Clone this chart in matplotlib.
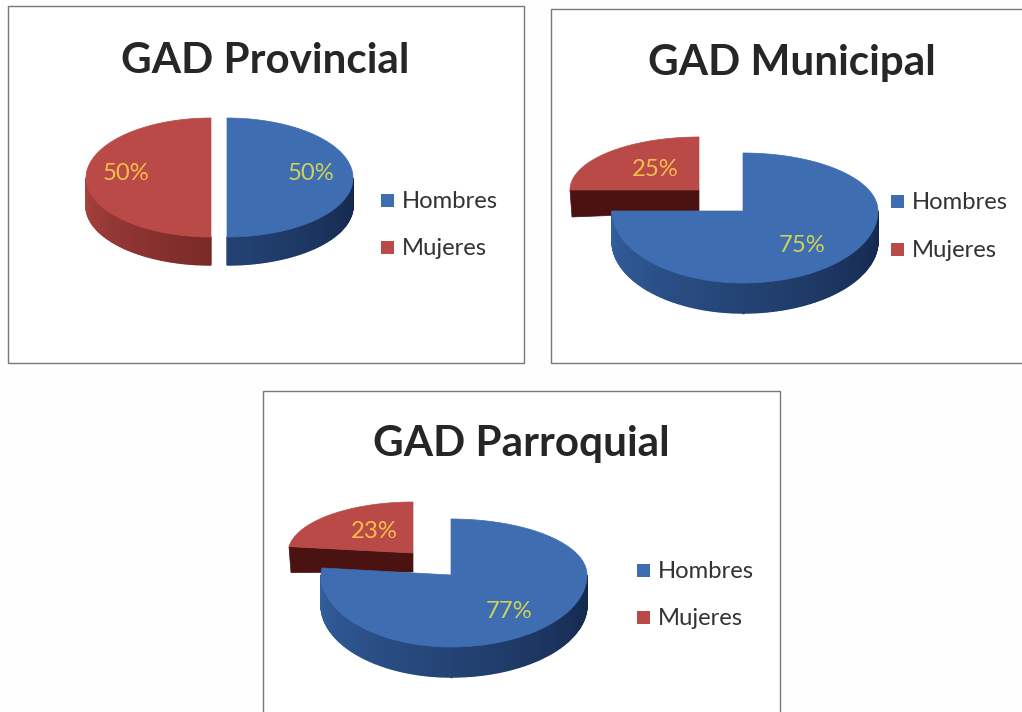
import numpy as np
import matplotlib
matplotlib.use('Agg')
import matplotlib.pyplot as plt
from matplotlib.colors import to_rgb
from matplotlib.patches import Polygon, Rectangle

# charts: title, share of men, share of women
titles = ['GAD Provincial', 'GAD Municipal', 'GAD Parroquial']
hombres = [50, 75, 77]
mujeres = [50, 25, 23]
legend_names = ['Hombres', 'Mujeres']

BLUE = '#3f6db1'
RED = '#b94a47'
BLUE_SIDE = ('#14264a', '#33609f')
RED_SIDE = ('#4a1210', '#a8423f')
CUT = '#4a1311'
FONT = 'Lato'

fig = plt.figure(figsize=(10.22, 7.12), dpi=100, facecolor='#fefefe')
ax = fig.add_axes([0, 0, 1, 1])
ax.set_xlim(0, 1022)
ax.set_ylim(712, 0)
ax.axis('off')


def rim(c, t):
    # c is apex x, apex y, radius right, radius left, back radius y, front radius y
    # t is clockwise from 12 o'clock
    t = np.radians(t)
    co = np.cos(t)
    si = np.sin(t)
    ry = np.where(co > 0, c[4], c[5])
    rx = np.where(si > 0, c[2], c[3])
    return c[0] + si * rx, c[1] - co * ry


def draw_slice(c, t0, t1, top, side, depth, apex_depth):
    # rounded outer wall, only the part facing the viewer
    a, b = max(t0, 90), min(t1, 270)
    if b > a:
        ts = np.linspace(a, b, int(b - a) + 2)
        dark, light = np.array(to_rgb(side[0])), np.array(to_rgb(side[1]))
        for p, q in zip(ts[:-1], ts[1:]):
            xs, ys = rim(c, np.array([p, q]))
            col = dark + (light - dark) * (p - 90) / 180
            ax.add_patch(Polygon([(xs[0], ys[0]), (xs[1], ys[1]), (xs[1], ys[1] + depth), (xs[0], ys[0] + depth)],
                                 fc=col, ec=col, lw=1.0))
    # flat cut face when the slice starts on the left side
    if t0 > 180:
        x0, y0 = rim(c, t0)
        ax.add_patch(Polygon([(c[0], c[1]), (x0, y0), (x0 + 2, y0 + depth), (c[0], c[1] + apex_depth)],
                             fc=CUT, ec=CUT, lw=0.5))
    ts = np.linspace(t0, t1, 200)
    xs, ys = rim(c, ts)
    pts = [(c[0], c[1])] + list(zip(xs, ys))
    ax.add_patch(Polygon(pts, fc=top, ec=top, lw=0.5))


def draw_panel(i, frame, title_xy, c_h, c_m, depths, apex_depth, lab_h, lab_m, leg_x, leg_y):
    ax.add_patch(Rectangle((frame[0], frame[1]), frame[2], frame[3], fc='white', ec='#787878', lw=1.0))
    ax.text(title_xy[0], title_xy[1], titles[i], fontsize=30.4, fontweight='bold', family=FONT,
            color='#262626', ha='center', va='center')
    split = hombres[i] * 3.6
    draw_slice(c_m, split, 360, RED, RED_SIDE, depths[1], apex_depth)
    draw_slice(c_h, 0, split, BLUE, BLUE_SIDE, depths[0], apex_depth)
    ax.text(lab_h[0], lab_h[1], '%d%%' % hombres[i], fontsize=17.2, family=FONT, color='#cdd35a',
            ha='center', va='center')
    ax.text(lab_m[0], lab_m[1], '%d%%' % mujeres[i], fontsize=17.2, family=FONT, color='#f5bd4c',
            ha='center', va='center')
    for name, y, col in zip(legend_names, leg_y, [BLUE, RED]):
        ax.add_patch(Rectangle((leg_x, y - 6.5), 13, 13, fc=col, ec='none'))
        ax.text(leg_x + 21, y + 1.5, name, fontsize=17.2, family=FONT, color='#333333', ha='left', va='center')


draw_panel(0, (8, 6, 516, 357), (265, 61), (227, 178, 126, 126, 60, 59), (211, 178, 125, 125, 60, 59), (28, 28), 28,
           (311, 174), (126, 174), 381, (200, 247))
draw_panel(1, (551, 9, 490, 354), (792, 63), (743, 211, 135, 131, 58, 72), (699, 190, 129, 129, 53, 53), (30, 27), 22,
           (802, 246), (655, 169), 891, (201, 249))
draw_panel(2, (263, 391, 517, 340), (521, 444), (451, 575, 136, 130, 56, 72), (413, 553, 125, 125, 51, 51), (30, 26), 19,
           (509, 612), (374, 532), 637, (570, 617))

fig.savefig('out.png', dpi=100, facecolor=fig.get_facecolor())
